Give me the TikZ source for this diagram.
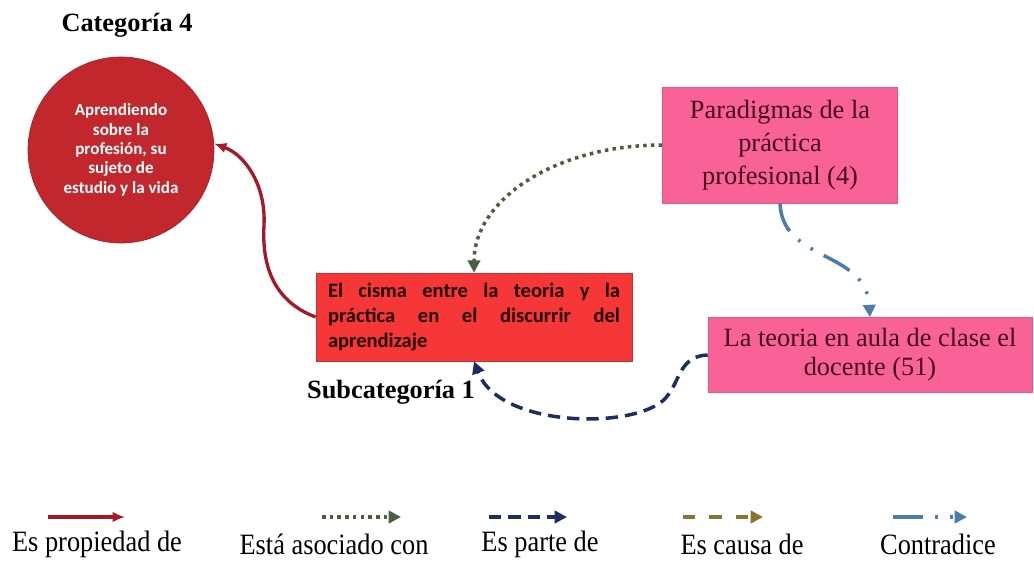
\documentclass[tikz,border=0pt]{standalone}
\usepackage{fontspec}
\setmainfont{Liberation Serif}
\newfontfamily\calibri{Carlito}
\usepackage{tikz}
\usetikzlibrary{arrows.meta}

\definecolor{circred}{RGB}{193,39,45}
\definecolor{boxred}{RGB}{245,55,55}
\definecolor{boxpink}{RGB}{248,98,150}
\definecolor{pinktext}{RGB}{70,10,30}
\definecolor{propred}{RGB}{165,25,40}
\definecolor{asocgreen}{RGB}{75,95,60}
\definecolor{partenavy}{RGB}{30,45,95}
\definecolor{causaolive}{RGB}{140,115,50}
\definecolor{contrablue}{RGB}{75,125,170}

\begin{document}
\begin{tikzpicture}[x=0.02cm, y=-0.02cm,
    propiedad/.style={draw=propred, line width=1.9pt, -{Latex[length=7pt,width=6pt]}},
    asociado/.style={draw=asocgreen, line width=2pt, dash pattern=on 2pt off 2.4pt, -{Triangle[length=7pt,width=7pt]}},
    parte/.style={draw=partenavy, line width=2pt, dash pattern=on 7pt off 4pt, -{Triangle[length=7pt,width=7pt]}},
    causa/.style={draw=causaolive, line width=2pt, dash pattern=on 7pt off 8pt, -{Triangle[length=7pt,width=7pt]}},
    contradice/.style={draw=contrablue, line width=2pt, dash pattern=on 17pt off 7pt on 1.5pt off 7pt on 1.5pt off 7pt, -{Triangle[length=7pt,width=7pt]}},
    pinkbox/.style={rectangle, fill=boxpink, draw=boxpink!90!black, text=pinktext, font=\fontsize{15}{18.7}\selectfont, align=center}]
    \useasboundingbox (0,0) rectangle (1034,562);

    % Category circle
    \node[font=\bfseries\fontsize{15}{18}\selectfont] (cat4lab) at (127,25) {Categoría 4};
    \node[circle, fill=circred, draw=circred!85!black, minimum size=3.72cm, inner sep=0pt, text=white,
          font=\calibri\bfseries\fontsize{9.7}{11}\selectfont, align=center] (cat4) at (121,150)
          {Aprendiendo\\ sobre la\\ profesión, su\\ sujeto de\\ estudio y la vida};

    % Subcategory box (justified lines)
    \node[rectangle, fill=boxred, draw=boxred!85!black, minimum width=6.32cm, minimum height=1.76cm,
          text width=5.84cm, inner sep=0pt, align=left, text=black!85!red,
          font=\calibri\bfseries\fontsize{11.7}{14.2}\selectfont] (cisma) at (474,317)
          {\makebox[5.84cm][s]{El\hfill cisma\hfill entre\hfill la\hfill teoria\hfill y\hfill la}\\
           \makebox[5.84cm][s]{práctica\hfill en\hfill el\hfill discurrir\hfill del}\\
           aprendizaje};
    \node[font=\bfseries\fontsize{15}{18}\selectfont] (sublab) at (391,392) {Subcategoría 1};

    % Codes
    \node[pinkbox, minimum width=4.7cm, minimum height=2.32cm] (para) at (780,145)
          {Paradigmas de la\\ práctica\\ profesional (4)};
    \node[pinkbox, minimum width=6.48cm, minimum height=1.5cm, font=\fontsize{15}{16.5}\selectfont] (teoria) at (870,355)
          {La teoria en aula de clase el\\ docente (51)};

    % Relations
    \draw[propiedad] (cisma.west) .. controls (270,300) and (262,260) .. (264,225)
          .. controls (266,185) and (245,155) .. (cat4.4);
    \draw[asociado] (para.west) .. controls (555,145) and (474,200) .. (cisma.north);
    \draw[contradice] (para.south) .. controls (782,262) and (866,250) .. (teoria.north);
    \draw[parte] (teoria.west) .. controls (680,356) and (680,380) .. (668,395)
          .. controls (645,430) and (500,430) .. (cisma.south);

    % Legend
    \foreach \i/\xa/\xb/\xl/\sty/\lab in {1/48/125/97/propiedad/Es propiedad de,
                                        2/322/401/334/asociado/Está asociado con,
                                        3/489/567/540/parte/Es parte de,
                                        4/683/763/742/causa/Es causa de,
                                        5/893/967/938/contradice/Contradice} {
        \coordinate (la\i) at (\xa,517);
        \coordinate (lb\i) at (\xb,517);
        \draw[\sty] (la\i) -- (lb\i);
        \node[font=\fontsize{15}{18}\selectfont] (leg\i) at (\xl,544) {\scalebox{1}[1.12]{\lab}};
    }
\end{tikzpicture}
\end{document}
